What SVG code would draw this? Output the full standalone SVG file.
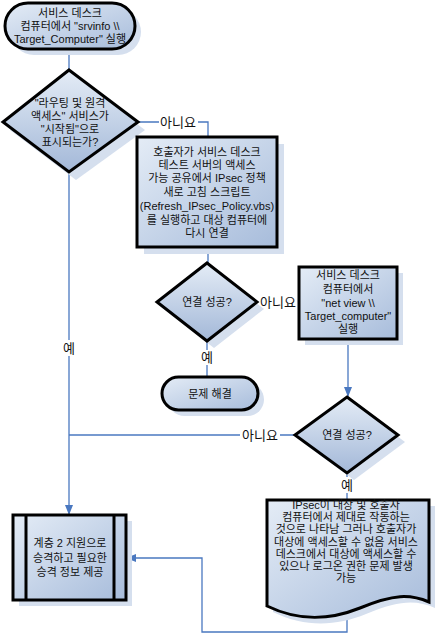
<svg xmlns="http://www.w3.org/2000/svg" width="436" height="633" viewBox="0 0 436 633">
<defs>
<linearGradient id="g" x1="0" y1="0" x2="1" y2="1">
<stop offset="0" stop-color="#e4ecf6"/>
<stop offset="1" stop-color="#a7bcdb"/>
</linearGradient>
<linearGradient id="gd" x1="0" y1="0" x2="0" y2="1">
<stop offset="0" stop-color="#e4ecf6"/>
<stop offset="1" stop-color="#a3b8d8"/>
</linearGradient>
<marker id="arr" markerWidth="10" markerHeight="8" refX="9" refY="4" orient="auto" markerUnits="userSpaceOnUse">
<path d="M0,0 L10,4 L0,8 Z" fill="#4a78c0"/>
</marker>
</defs>
<style>
.sh{fill:#d5dfee;stroke:none}
.n{fill:url(#g);stroke:#000;stroke-width:3}
.d{fill:url(#gd);stroke:#000;stroke-width:3}
.c{fill:none;stroke:#4a78c0;stroke-width:1.3}
text{font-family:"Liberation Sans","Noto Sans CJK KR",sans-serif;font-size:11px;fill:#111;text-anchor:middle}
.lb{font-size:13px}
.bg{fill:#fff}
</style>
<rect width="436" height="633" fill="#fff"/>

<g id="connectors">
<path class="c" d="M69,49 V70"/>
<path class="c" d="M138,122 H208 V137"/>
<path class="c" d="M208,247 V263"/>
<path class="c" d="M207,341 V377"/>
<path class="c" d="M257,302 H299"/>
<path class="c" d="M348,339 V396" marker-end="url(#arr)"/>
<path class="c" d="M295,435 H69"/>
<path class="c" d="M69,172 V514" marker-end="url(#arr)"/>
<path class="c" d="M347,473 V500"/>
<path class="c" d="M347,614 V632 H202 V558 H127" marker-end="url(#arr)"/>
<rect class="bg" x="159" y="114" width="39" height="16"/>
<text class="lb" x="178" y="127">아니요</text>
<rect class="bg" x="258" y="294" width="40" height="16"/>
<text class="lb" x="278" y="307">아니요</text>
<rect class="bg" x="240" y="427" width="40" height="16"/>
<text class="lb" x="260" y="440">아니요</text>
<rect class="bg" x="61" y="340" width="16" height="16"/>
<text class="lb" x="69" y="353">예</text>
<rect class="bg" x="199" y="350" width="16" height="15"/>
<text class="lb" x="207" y="362">예</text>
<rect class="bg" x="339" y="477" width="16" height="16"/>
<text class="lb" x="347" y="490">예</text>
</g>

<g id="start">
<rect class="sh" x="11" y="9" width="130" height="46" rx="23"/>
<rect class="n" x="5" y="3" width="130" height="46" rx="23"/>
<text x="70" y="17">서비스 데스크</text>
<text x="70" y="30">컴퓨터에서 "srvinfo \\</text>
<text x="70" y="43">Target_Computer" 실행</text>
</g>

<g id="decision1">
<polygon class="sh" points="76,78 145,130 76,180 10,130"/>
<polygon class="d" points="69,70 138,122 69,172 3,122"/>
<text x="70" y="107">"라우팅 및 원격</text>
<text x="70" y="120">액세스" 서비스가</text>
<text x="70" y="133">"시작됨"으로</text>
<text x="70" y="146">표시되는가?</text>
</g>

<g id="refresh">
<rect class="sh" x="144" y="144" width="140" height="110"/>
<rect class="n" x="137" y="137" width="140" height="110"/>
<text x="207" y="156">호출자가 서비스 데스크</text>
<text x="207" y="169">테스트 서버의 액세스</text>
<text x="207" y="182">가능 공유에서 IPsec 정책</text>
<text x="207" y="196">새로 고침 스크립트</text>
<text x="207" y="210">(Refresh_IPsec_Policy.vbs)</text>
<text x="207" y="224">를 실행하고 대상 컴퓨터에</text>
<text x="207" y="237">다시 연결</text>
</g>

<g id="decision2">
<polygon class="sh" points="214,270 264,309 214,348 164,309"/>
<polygon class="d" points="207,263 257,302 207,341 157,302"/>
<text x="207" y="306">연결 성공?</text>
</g>

<g id="netview">
<rect class="sh" x="305" y="273" width="98" height="72"/>
<rect class="n" x="299" y="267" width="98" height="72"/>
<text x="348" y="279">서비스 데스크</text>
<text x="348" y="293">컴퓨터에서</text>
<text x="348" y="307">"net view \\</text>
<text x="348" y="320">Target_computer"</text>
<text x="348" y="333">실행</text>
</g>

<g id="resolved">
<rect class="sh" x="168" y="383" width="96" height="33" rx="16.5"/>
<rect class="n" x="162" y="377" width="96" height="33" rx="16.5"/>
<text x="210" y="398">문제 해결</text>
</g>

<g id="decision3">
<polygon class="sh" points="354,404 405,442 354,480 302,442"/>
<polygon class="d" points="347,397 398,435 347,473 295,435"/>
<text x="347" y="439">연결 성공?</text>
</g>

<g id="document">
<path class="sh" d="M273,506 H435 V608 C416,600 400,600 366,614 C336,626 306,628 273,612 Z"/>
<path class="n" d="M267,500 H429 V602 C410,594 394,594 360,608 C330,620 300,622 267,606 Z"/>
<text x="346" y="509">IPsec이 대상 및 호출자</text>
<text x="346" y="521">컴퓨터에서 제대로 작동하는</text>
<text x="346" y="533">것으로 나타남 그러나 호출자가</text>
<text x="346" y="546">대상에 액세스할 수 없음 서비스</text>
<text x="346" y="558">데스크에서 대상에 액세스할 수</text>
<text x="346" y="570">있으나 로그온 권한 문제 발생</text>
<text x="346" y="582">가능</text>
</g>

<g id="escalate">
<rect class="sh" x="19" y="521" width="113" height="85"/>
<rect class="n" x="13" y="515" width="113" height="85"/>
<path d="M26,515 V600 M114,515 V600" stroke="#000" stroke-width="3" fill="none"/>
<text x="70" y="547">계층 2 지원으로</text>
<text x="70" y="562">승격하고 필요한</text>
<text x="70" y="576">승격 정보 제공</text>
</g>
</svg>
